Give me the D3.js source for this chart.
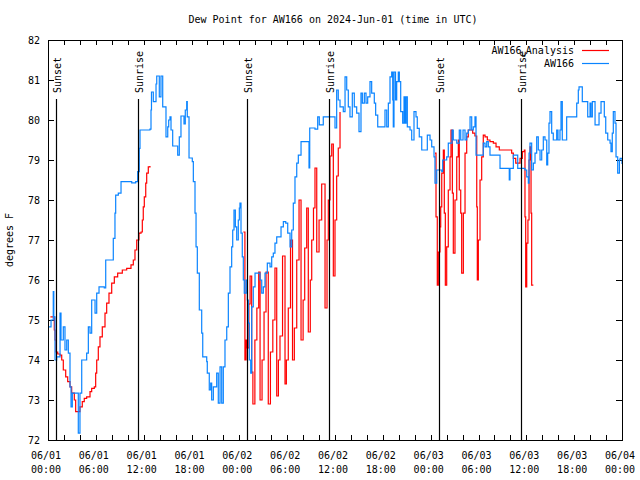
<!DOCTYPE html>
<html>

<head>
    <meta charset="utf-8" />
    <style>
        body {
            margin: 0;
            background-color: white;
        }

        text {
            font-family: "DejaVu Sans Mono", monospace;
            font-size: 10px;
            fill: black;
        }
    </style>

    <script src="https://d3js.org/d3.v7.min.js"></script>
</head>

<body>
    <script>
        // hours after 2024-06-01 00:00 UTC, dew point in degrees F
        var observed = [
            [0.04, 74.83], [0.38, 75.0], [0.66, 75.71], [0.73, 75.08], [0.88, 74.0], [1.09, 74.08], [1.51, 75.17],
            [1.63, 74.5], [1.92, 74.83], [2.13, 74.25], [2.35, 74.5], [2.55, 74.17], [2.76, 73.33], [2.89, 72.83],
            [3.05, 73.17], [3.6, 73.17], [3.8, 72.17], [4.01, 73.17], [4.23, 74.0], [4.85, 74.17], [5.06, 74.83],
            [5.27, 74.67], [5.48, 75.5], [5.9, 75.17], [6.11, 75.67], [6.4, 75.83], [7.06, 75.8], [7.24, 76.5],
            [7.9, 76.5], [8.19, 77.04], [8.4, 77.67], [8.49, 78.12], [8.82, 78.17], [9.16, 78.46], [10.5, 78.43],
            [11.0, 78.46], [11.25, 78.71], [11.45, 79.29], [11.54, 79.75], [12.79, 79.77], [12.92, 80.25],
            [12.98, 80.7], [13.21, 80.46], [13.42, 80.46], [13.55, 80.9], [13.64, 81.1], [13.92, 81.1],
            [13.96, 80.58], [14.17, 81.1], [14.34, 81.1], [14.39, 80.33], [14.68, 80.33], [14.8, 79.58],
            [15.02, 79.83], [15.14, 80.0], [15.3, 80.08], [15.43, 79.75], [15.64, 79.35], [16.27, 79.12],
            [16.47, 79.58], [16.68, 80.1], [17.06, 79.9], [17.22, 80.25], [17.4, 80.46], [17.47, 80.08],
            [17.69, 79.05], [18.1, 78.96], [18.23, 78.46], [18.44, 77.67], [18.57, 76.83], [18.73, 76.17],
            [18.98, 75.25], [19.28, 74.67], [19.41, 74.08], [19.91, 73.96], [19.98, 73.67], [20.23, 73.25],
            [20.41, 73.42], [20.53, 73.0], [20.74, 73.33], [21.16, 73.67], [21.36, 72.92], [21.58, 73.83],
            [21.79, 72.92], [21.99, 73.83], [22.2, 74.5], [22.42, 74.83], [22.62, 75.67], [22.83, 76.33],
            [23.04, 76.83], [23.17, 77.25], [23.33, 77.75], [23.5, 77.33], [23.67, 77.0], [23.87, 77.5],
            [24.0, 77.8], [24.08, 77.92], [24.21, 77.17], [24.37, 76.58], [24.5, 76.0], [24.62, 75.67],
            [24.84, 76.0], [25.0, 75.5], [25.13, 74.92], [25.25, 74.0], [25.43, 73.67], [25.55, 75.33],
            [25.75, 75.83], [25.97, 76.17], [26.38, 76.17], [26.59, 76.0], [26.81, 75.67], [27.01, 75.83],
            [27.22, 76.17], [27.51, 76.42], [27.85, 76.33], [28.06, 76.58], [28.26, 76.67], [28.47, 76.92],
            [28.69, 77.08], [28.98, 77.08], [29.23, 77.33], [29.52, 77.46], [29.82, 77.42], [30.07, 77.17],
            [30.36, 76.83], [30.57, 77.25], [30.77, 77.92], [30.98, 78.58], [31.2, 78.92], [31.4, 79.12],
            [31.74, 79.46], [32.58, 79.46], [32.74, 78.8], [32.83, 79.8], [33.49, 79.77], [33.83, 80.08],
            [34.03, 79.88], [34.53, 80.08], [35.79, 80.08], [36.0, 79.8], [36.21, 80.75], [36.41, 80.5],
            [36.63, 80.33], [37.04, 80.21], [37.26, 81.08], [37.47, 80.75], [37.67, 80.33], [37.88, 80.08],
            [38.17, 80.67], [38.42, 80.33], [38.72, 80.17], [39.01, 79.71], [39.26, 80.67], [39.43, 80.42],
            [39.68, 80.67], [39.89, 80.42], [40.1, 80.58], [40.39, 80.96], [40.6, 80.67], [40.93, 80.42],
            [41.1, 80.12], [41.36, 79.83], [42.06, 79.83], [42.27, 80.25], [42.49, 79.83], [42.69, 80.42],
            [42.9, 81.08], [43.11, 81.2], [43.24, 80.5], [43.31, 79.83], [43.4, 81.2], [43.59, 80.5],
            [43.74, 80.96], [43.94, 81.2], [44.07, 80.96], [44.24, 80.21], [44.49, 79.92], [44.66, 80.58],
            [44.78, 79.92], [44.91, 80.58], [45.07, 79.83], [45.41, 79.75], [45.62, 79.5], [45.91, 80.21],
            [46.16, 80.08], [46.32, 79.79], [46.57, 79.58], [46.88, 79.25], [47.42, 79.25], [47.58, 79.62],
            [47.92, 79.5], [48.13, 79.33], [48.42, 79.08], [48.54, 78.42], [48.76, 78.75], [49.39, 78.71],
            [49.51, 79.0], [50.01, 79.08], [50.21, 79.42], [50.68, 79.75], [50.84, 79.5], [51.27, 79.42],
            [51.59, 79.75], [51.77, 79.5], [52.06, 79.75], [52.31, 79.5], [52.52, 79.67], [52.72, 79.75],
            [52.94, 80.08], [53.15, 79.75], [53.35, 79.83], [53.56, 80.08], [53.69, 79.12], [54.4, 79.12],
            [54.6, 79.42], [54.82, 79.33], [55.03, 79.46], [55.23, 79.33], [55.44, 79.12], [56.61, 79.12],
            [56.7, 78.79], [57.74, 78.79], [57.86, 78.5], [57.95, 78.79], [58.16, 78.79], [58.37, 79.12],
            [58.79, 79.12], [58.92, 78.79], [59.42, 78.79], [59.83, 78.75], [60.05, 78.58], [60.25, 78.42],
            [60.34, 79.17], [60.46, 79.42], [60.67, 78.75], [60.88, 78.92], [61.09, 79.17], [61.3, 79.58],
            [61.5, 79.25], [61.72, 79.0], [61.93, 79.25], [62.13, 79.58], [62.34, 79.5], [62.56, 78.88],
            [62.68, 79.17], [62.84, 79.92], [62.97, 80.21], [63.18, 79.67], [63.38, 79.5], [63.81, 79.75],
            [63.97, 79.5], [64.22, 79.75], [64.35, 80.46], [64.51, 79.5], [64.85, 79.5], [65.06, 80.08],
            [66.19, 80.08], [66.32, 80.42], [66.52, 80.75], [66.61, 80.83], [66.86, 80.83], [67.02, 80.46],
            [67.49, 80.46], [67.7, 80.08], [67.99, 80.42], [68.11, 80.08], [68.28, 80.46], [68.62, 79.88],
            [68.95, 79.88], [69.12, 80.17], [69.37, 80.46], [69.66, 80.46], [69.78, 80.08], [69.96, 79.67],
            [70.21, 79.5], [70.5, 79.42], [70.62, 79.21], [70.78, 79.67], [70.91, 80.21], [71.12, 79.92],
            [71.25, 79.08], [71.46, 78.67], [71.67, 79.0], [71.76, 79.04], [72.0, 78.9]
        ];

        var analysisDay1 = [
            [0.3, 75.08], [0.66, 75.08], [0.79, 74.75], [0.88, 74.5], [1.0, 74.2], [1.22, 74.15], [1.51, 74.12],
            [1.72, 74.0], [1.92, 73.75], [2.22, 73.58], [2.47, 73.46], [2.76, 73.33], [2.97, 73.17], [3.3, 73.0],
            [3.47, 72.71], [3.8, 72.71], [4.01, 72.83], [4.3, 72.96], [4.55, 73.04], [4.85, 73.08], [5.27, 73.21],
            [5.48, 73.29], [5.81, 73.33], [5.98, 73.67], [6.11, 74.0], [6.31, 74.33], [6.52, 74.58], [6.81, 74.83],
            [7.15, 75.17], [7.36, 75.42], [7.65, 75.67], [7.99, 75.92], [8.32, 76.08], [8.74, 76.17], [9.32, 76.25],
            [9.87, 76.29], [10.41, 76.38], [10.7, 76.5], [10.91, 76.75], [11.13, 77.0], [11.41, 77.17],
            [11.67, 77.2], [11.83, 77.5], [11.95, 77.83], [12.08, 78.08], [12.26, 78.42], [12.38, 78.67],
            [12.58, 78.83], [12.79, 78.85]
        ];

        var analysisDay2 = [
            [24.5, 77.2], [24.7, 74.0], [24.85, 74.5], [25.0, 74.3], [25.2, 75.4], [25.35, 76.1], [25.55, 73.7],
            [25.7, 72.9], [25.95, 74.5], [26.2, 75.3], [26.43, 76.2], [26.6, 73.0], [26.85, 74.0], [27.1, 75.2],
            [27.35, 76.2], [27.63, 72.9], [27.9, 74.2], [28.2, 75.0], [28.47, 76.3], [28.69, 73.1], [28.9, 74.0],
            [29.1, 74.6], [29.42, 76.6], [29.73, 73.4], [29.9, 74.0], [30.14, 75.3], [30.42, 77.0], [30.67, 74.0],
            [30.9, 74.8], [31.2, 76.5], [31.49, 78.0], [31.74, 74.5], [32.0, 75.5], [32.2, 76.8], [32.45, 77.8],
            [32.65, 74.7], [32.9, 76.0], [33.08, 77.0], [33.3, 77.8], [33.49, 78.8], [33.71, 76.7], [34.0, 77.5],
            [34.33, 78.4], [34.75, 75.3], [35.0, 77.0], [35.16, 78.0], [35.37, 79.1], [35.59, 79.4], [35.79, 76.1],
            [36.0, 77.5], [36.21, 78.6], [36.41, 79.3], [36.63, 80.2]
        ];

        var analysisDay3 = [
            [48.54, 79.17], [48.67, 77.58], [48.83, 75.87], [48.96, 76.7], [49.17, 77.33], [49.26, 77.83],
            [49.39, 78.67], [49.59, 79.25], [49.71, 77.67], [49.84, 75.87], [50.01, 76.83], [50.21, 78.25],
            [50.43, 79.08], [50.55, 79.75], [50.72, 78.17], [50.84, 76.67], [51.05, 78.0], [51.27, 79.08],
            [51.47, 79.5], [51.59, 78.25], [51.77, 77.67], [51.89, 76.17], [52.1, 77.67], [52.31, 79.17],
            [52.52, 79.58], [52.72, 79.75], [52.94, 79.75], [53.27, 79.67], [53.55, 79.6], [53.78, 77.83],
            [53.85, 76.0], [53.98, 77.0], [54.19, 78.5], [54.4, 79.08], [54.6, 79.62], [54.82, 79.58],
            [55.11, 79.5], [55.44, 79.46], [55.86, 79.42], [56.2, 79.33], [56.61, 79.25], [57.95, 79.25],
            [58.16, 79.17], [58.37, 79.04], [58.67, 78.92], [58.92, 78.92], [59.21, 79.04], [59.5, 79.21],
            [59.75, 79.25], [59.83, 77.58], [59.92, 75.83], [60.05, 76.92], [60.2, 77.5], [60.34, 79.0],
            [60.46, 79.33], [60.59, 77.67], [60.67, 75.87], [60.88, 75.87]
        ];

        var sunEvents = [
            ["Sunset", 0.97], ["Sunrise", 11.33], ["Sunset", 24.98],
            ["Sunrise", 35.29], ["Sunset", 49.08], ["Sunrise", 59.33]
        ];

        var yTicks = [72, 73, 74, 75, 76, 77, 78, 79, 80, 81, 82];

        var width = 640,
            height = 480;

        var plotLeft = 48,
            plotRight = 622,
            plotTop = 40,
            plotBottom = 440;

        var t0 = Date.UTC(2024, 5, 1);
        function toDate(h) {
            return new Date(t0 + h * 3600 * 1000);
        }

        var x = d3.scaleUtc()
            .domain([toDate(0), toDate(72)])
            .range([plotLeft, plotRight]);

        var y = d3.scaleLinear()
            .domain([72, 82])
            .range([plotBottom, plotTop]);

        var svg = d3.select("body").append("svg")
            .attr("width", width)
            .attr("height", height);

        svg.append("rect")
            .attr("width", width)
            .attr("height", height)
            .attr("fill", "white");

        svg.append("text")
            .attr("x", 333)
            .attr("y", 23)
            .attr("text-anchor", "middle")
            .text("Dew Point for AW166 on 2024-Jun-01 (time in UTC)");

        svg.append("text")
            .attr("transform", "translate(13," + (plotTop + plotBottom) / 2 + ")rotate(-90)")
            .attr("text-anchor", "middle")
            .text("degrees F");

        // x ticks every 2 hours, labels every 6 hours
        var minorTicks = d3.utcHour.every(2).range(toDate(0), toDate(72.01));
        var majorTicks = d3.utcHour.every(6).range(toDate(0), toDate(72.01));

        var ticks = svg.append("g").attr("stroke", "black").attr("stroke-width", 1);
        minorTicks.forEach(function (d) {
            var px = Math.round(x(d)) + 0.5;
            ticks.append("line").attr("x1", px).attr("x2", px).attr("y1", plotBottom).attr("y2", plotBottom - 5);
            ticks.append("line").attr("x1", px).attr("x2", px).attr("y1", plotTop).attr("y2", plotTop + 5);
        });
        yTicks.forEach(function (v) {
            var py = Math.round(y(v)) + 0.5;
            ticks.append("line").attr("x1", plotLeft).attr("x2", plotLeft + 6).attr("y1", py).attr("y2", py);
            ticks.append("line").attr("x1", plotRight).attr("x2", plotRight - 6).attr("y1", py).attr("y2", py);
        });

        var dayFmt = d3.utcFormat("%m/%d"),
            hourFmt = d3.utcFormat("%H:%M");

        var xLabels = svg.append("g").selectAll("text")
            .data(majorTicks)
            .enter().append("text")
            .attr("text-anchor", "middle")
            .attr("x", function (d) { return x(d) - 2; })
            .attr("y", 459);
        xLabels.append("tspan").text(function (d) { return dayFmt(d); });
        xLabels.append("tspan")
            .attr("x", function (d) { return x(d) - 2; })
            .attr("dy", 14)
            .text(function (d) { return hourFmt(d); });

        svg.append("g").selectAll("text")
            .data(yTicks)
            .enter().append("text")
            .attr("text-anchor", "end")
            .attr("x", 40)
            .attr("y", function (d) { return y(d) + 4; })
            .text(function (d) { return d; });

        var line = d3.line()
            .curve(d3.curveStepAfter)
            .x(function (d) { return x(toDate(d[0])); })
            .y(function (d) { return y(d[1]); });

        var plot = svg.append("g");

        [analysisDay1, analysisDay2, analysisDay3].forEach(function (seg) {
            plot.append("path")
                .attr("d", line(seg))
                .attr("fill", "none")
                .attr("stroke", "#ff0000")
                .attr("stroke-width", 1.2);
        });

        plot.append("path")
            .attr("d", line(observed))
            .attr("fill", "none")
            .attr("stroke", "#0a84ff")
            .attr("stroke-width", 1.2);

        // sunrise / sunset markers
        sunEvents.forEach(function (e) {
            var px = Math.round(x(toDate(e[1]))) + 0.5;
            svg.append("line")
                .attr("x1", px).attr("x2", px)
                .attr("y1", plotBottom).attr("y2", 99)
                .attr("stroke", "black")
                .attr("stroke-width", 1.2);
            svg.append("text")
                .attr("transform", "translate(" + (px + 4) + ",93)rotate(-90)")
                .text(e[0]);
        });

        // legend
        var legend = [
            { name: "AW166", sub: "u", rest: "Analysis", color: "#ff0000" },
            { name: "AW166", sub: "", rest: "", color: "#0a84ff" }
        ];
        legend.forEach(function (l, i) {
            var ly = 50 + i * 13;
            var t = svg.append("text")
                .attr("x", 574)
                .attr("y", ly + 4)
                .attr("text-anchor", "end");
            t.append("tspan").text(l.name);
            if (l.sub) {
                t.append("tspan").attr("font-size", "7px").attr("dy", 3).text(l.sub);
                t.append("tspan").attr("dy", -3).text(l.rest);
            }
            svg.append("line")
                .attr("x1", 582).attr("x2", 609)
                .attr("y1", ly + 0.5).attr("y2", ly + 0.5)
                .attr("stroke", l.color)
                .attr("stroke-width", 1.2);
        });

        svg.append("rect")
            .attr("x", plotLeft + 0.5)
            .attr("y", plotTop + 0.5)
            .attr("width", plotRight - plotLeft)
            .attr("height", plotBottom - plotTop)
            .attr("fill", "none")
            .attr("stroke", "black")
            .attr("stroke-width", 1);
    </script>
</body>

</html>
